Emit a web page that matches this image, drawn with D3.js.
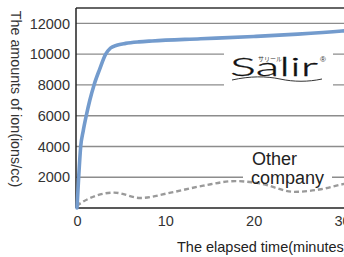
<!DOCTYPE html>
<html>
<head>
<meta charset="utf-8">
<script src="https://cdn.jsdelivr.net/npm/d3@7"></script>
<style>
  body { margin: 0; background: #fff; overflow: hidden; }
  svg { display: block; font-family: "Liberation Sans", Arial, sans-serif; }
</style>
</head>
<body>
<div id="chart"></div>
<script>
const WIDTH = 344, HEIGHT = 257;

// values (minutes, ions/cc)
const salirTime = [0, 0.19, 0.42, 0.7, 1.05, 1.45, 1.93, 2.55, 3.25, 3.8, 4.5, 5.5, 7, 8.5, 14, 20, 25, 30, 31];
const salirIons = [0, 2000, 4000, 5000, 6000, 7000, 8000, 9000, 10000, 10400, 10580, 10700, 10800, 10860, 11000, 11150, 11300, 11500, 11550];
const otherTime = [0, 0.1, 4.2, 7.2, 10.6, 14.3, 17.9, 20.7, 24.6, 27.4, 30.1, 31];
const otherIons = [100, 200, 1000, 650, 1000, 1450, 1750, 1600, 1050, 1200, 1550, 1650];
const yTicks = [0, 2000, 4000, 6000, 8000, 10000, 12000];
const xTicks = [0, 10, 20, 30];

const svg = d3.select("#chart")
    .append("svg")
    .attr("width", WIDTH)
    .attr("height", HEIGHT)

const x = d3.scaleLinear().domain([0, 30]).range([77, 342]);
const y = d3.scaleLinear().domain([0, 13000]).range([208, 8]);

// grid
svg.append("g")
    .selectAll("line")
    .data(yTicks.filter(d => d > 0))
    .join("line")
    .attr("x1", 76).attr("x2", WIDTH)
    .attr("y1", d => y(d)).attr("y2", d => y(d))
    .attr("stroke", "#8c8c8c")
    .attr("stroke-width", 1.4)

// white patches behind the logo and the label
svg.append("rect").attr("x", 224).attr("y", 47).attr("width", 109).attr("height", 46).attr("fill", "#fff")
svg.append("rect").attr("x", 243).attr("y", 150).attr("width", 89).attr("height", 42).attr("fill", "#fff")

// axes
const yAxis = svg.append("g")
    .attr("transform", "translate(76,0)")
    .call(d3.axisLeft(y).tickValues(yTicks.filter(d => d > 0)).tickFormat(d3.format("d")).tickSize(0).tickPadding(6))
yAxis.select(".domain").remove()
yAxis.selectAll("text").attr("font-size", 14.5).attr("fill", "#333").attr("font-family", "Liberation Sans, Arial, sans-serif")

const xAxis = svg.append("g")
    .attr("transform", "translate(0,208)")
    .call(d3.axisBottom(x).tickValues(xTicks).tickFormat(d3.format("d")).tickSize(0).tickPadding(8))
xAxis.select(".domain").remove()
xAxis.selectAll("text").attr("font-size", 14.5).attr("fill", "#333").attr("font-family", "Liberation Sans, Arial, sans-serif")

svg.append("line").attr("x1", 76).attr("x2", WIDTH).attr("y1", 8).attr("y2", 8).attr("stroke", "#333").attr("stroke-width", 1.5)
svg.append("line").attr("x1", 76).attr("x2", 76).attr("y1", 8).attr("y2", 208).attr("stroke", "#222").attr("stroke-width", 1.5)

// lines
const otherLine = d3.line().x(d => x(d[0])).y(d => y(d[1])).curve(d3.curveMonotoneX)
svg.append("path")
    .datum(d3.zip(otherTime, otherIons))
    .attr("d", otherLine)
    .attr("fill", "none")
    .attr("stroke", "#9a9a9a")
    .attr("stroke-width", 2.4)
    .attr("stroke-dasharray", "5,3")

svg.append("line").attr("x1", 76).attr("x2", WIDTH).attr("y1", 208).attr("y2", 208).attr("stroke", "#222").attr("stroke-width", 1.6)

const salirLine = d3.line().x(d => x(d[0])).y(d => y(d[1])).curve(d3.curveMonotoneX)
svg.append("path")
    .datum(d3.zip(salirTime, salirIons))
    .attr("d", salirLine)
    .attr("fill", "none")
    .attr("stroke", "#739bcd")
    .attr("stroke-width", 3.6)
    .attr("stroke-linecap", "round")

// logo
svg.append("text")
    .attr("x", 230).attr("y", 76)
    .attr("font-family", "Lato, 'Open Sans', sans-serif")
    .attr("font-weight", 300)
    .attr("font-size", 26)
    .attr("textLength", 88)
    .attr("lengthAdjust", "spacingAndGlyphs")
    .attr("fill", "#111")
    .attr("stroke", "#111")
    .attr("stroke-width", 0.3)
    .text("Salir")
svg.append("text")
    .attr("x", 258).attr("y", 61)
    .attr("font-family", "Noto Sans CJK JP")
    .attr("font-size", 6)
    .attr("fill", "#333")
    .text("サリール")
svg.append("text")
    .attr("x", 320).attr("y", 62)
    .attr("font-size", 8)
    .attr("fill", "#333")
    .text("®")
svg.append("path")
    .attr("d", "M232,80 C250,76 266,76 280,79 C294,82 308,82 322,79")
    .attr("fill", "none")
    .attr("stroke", "#333")
    .attr("stroke-width", 1)

// label for the other line
svg.append("text").attr("x", 252).attr("y", 165).attr("font-size", 18).attr("fill", "#222").text("Other")
svg.append("text").attr("x", 251).attr("y", 184).attr("font-size", 18).attr("fill", "#222").text("company")

// axis titles
svg.append("text")
    .attr("transform", "translate(11,99) rotate(90)")
    .attr("text-anchor", "middle")
    .attr("font-size", 14.3)
    .attr("fill", "#333")
    .text("The amounts of ion(ions/cc)")
svg.append("text")
    .attr("x", 177).attr("y", 252)
    .attr("font-size", 14.5)
    .attr("fill", "#222")
    .text("The elapsed time(minutes)")
</script>
</body>
</html>
